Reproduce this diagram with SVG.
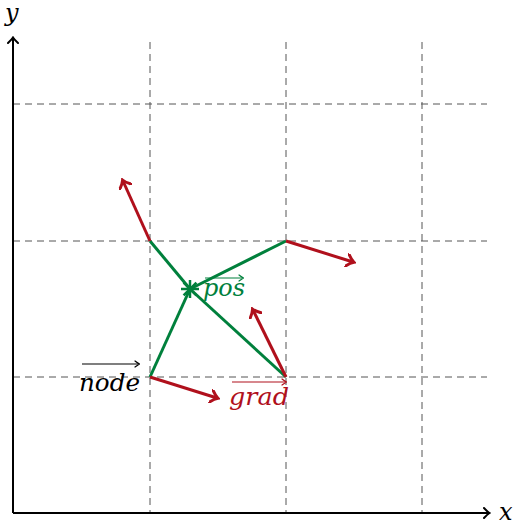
<svg xmlns="http://www.w3.org/2000/svg" width="516" height="527" viewBox="0 0 516 527">
<defs>
<style>
.grid{stroke:#555;stroke-width:1;stroke-dasharray:7,5;fill:none}
.axis{stroke:#000;stroke-width:2;fill:none}
.g{stroke:#00803c;stroke-width:3;fill:none}
.r{stroke:#b0101c;stroke-width:3;fill:none}
text{font-family:'DejaVu Serif','Liberation Serif',serif;font-style:italic}
</style>
<marker id="ak" viewBox="-6 -6 8 12" markerWidth="8" markerHeight="12" refX="0" refY="0" orient="auto" markerUnits="userSpaceOnUse">
<path d="M-5,-5 Q-1.5,-1.2 0.5,0 Q-1.5,1.2 -5,5" stroke="#000" stroke-width="2" fill="none" stroke-linecap="round"/>
</marker>
<marker id="ar" viewBox="-7 -7 10 14" markerWidth="10" markerHeight="14" refX="0" refY="0" orient="auto" markerUnits="userSpaceOnUse">
<path d="M-6,-6 Q-2,-1.5 1,0 Q-2,1.5 -6,6" stroke="#b0101c" stroke-width="3" fill="none" stroke-linecap="round"/>
</marker>
<marker id="asK" viewBox="-5 -4 6 8" markerWidth="6" markerHeight="8" refX="0" refY="0" orient="auto" markerUnits="userSpaceOnUse">
<path d="M-4,-3 Q-1,-0.8 0.5,0 Q-1,0.8 -4,3" stroke="#000" stroke-width="1.2" fill="none" stroke-linecap="round"/>
</marker>
<marker id="asG" viewBox="-5 -4 6 8" markerWidth="6" markerHeight="8" refX="0" refY="0" orient="auto" markerUnits="userSpaceOnUse">
<path d="M-4,-3 Q-1,-0.8 0.5,0 Q-1,0.8 -4,3" stroke="#00803c" stroke-width="1.2" fill="none" stroke-linecap="round"/>
</marker>
<marker id="asR" viewBox="-5 -4 6 8" markerWidth="6" markerHeight="8" refX="0" refY="0" orient="auto" markerUnits="userSpaceOnUse">
<path d="M-4,-3 Q-1,-0.8 0.5,0 Q-1,0.8 -4,3" stroke="#b0101c" stroke-width="1.2" fill="none" stroke-linecap="round"/>
</marker>
</defs>
<rect width="516" height="527" fill="#fff"/>
<g id="grid">
<line class="grid" x1="150" y1="42" x2="150" y2="513"/>
<line class="grid" x1="286" y1="42" x2="286" y2="513"/>
<line class="grid" x1="422" y1="42" x2="422" y2="513"/>
<line class="grid" x1="13" y1="104" x2="487" y2="104"/>
<line class="grid" x1="13" y1="241" x2="487" y2="241"/>
<line class="grid" x1="13" y1="377" x2="487" y2="377"/>
</g>
<g id="axes">
<line class="axis" x1="13" y1="513" x2="489" y2="513" marker-end="url(#ak)"/>
<line class="axis" x1="13" y1="513" x2="13" y2="38" marker-end="url(#ak)"/>
<text x="499" y="520" font-size="24">x</text>
<text x="5" y="21" font-size="24">y</text>
</g>
<g id="connectors">
<line class="g" x1="190" y1="289" x2="150" y2="377"/>
<line class="g" x1="190" y1="289" x2="286" y2="377"/>
<line class="g" x1="190" y1="289" x2="286" y2="241"/>
<line class="g" x1="190" y1="289" x2="150" y2="241"/>
<line class="r" x1="150" y1="241" x2="123" y2="181" marker-end="url(#ar)"/>
<line class="r" x1="286" y1="241" x2="353" y2="262" marker-end="url(#ar)"/>
<line class="r" x1="286" y1="377" x2="253" y2="310" marker-end="url(#ar)"/>
<line class="r" x1="150" y1="377" x2="217" y2="398" marker-end="url(#ar)"/>
</g>
<g id="pos">
<g stroke="#00803c" stroke-width="2.5">
<line x1="181" y1="289" x2="199" y2="289"/>
<line x1="190" y1="280" x2="190" y2="298"/>
<line x1="183.6" y1="282.6" x2="196.4" y2="295.4"/>
<line x1="183.6" y1="295.4" x2="196.4" y2="282.6"/>
</g>
<line x1="205" y1="278" x2="243" y2="278" stroke="#00803c" stroke-width="1.2" marker-end="url(#asG)"/>
<text x="203" y="296" fill="#00803c" font-size="24" textLength="42" lengthAdjust="spacingAndGlyphs">pos</text>
</g>
<g id="node">
<line x1="82" y1="364" x2="139" y2="364" stroke="#000" stroke-width="1.2" marker-end="url(#asK)"/>
<text x="79" y="391" fill="#000" font-size="24" textLength="61" lengthAdjust="spacingAndGlyphs">node</text>
</g>
<g id="grad">
<line x1="232" y1="382" x2="286" y2="382" stroke="#b0101c" stroke-width="1.2" marker-end="url(#asR)"/>
<text x="229" y="405" fill="#b0101c" font-size="24" textLength="60" lengthAdjust="spacingAndGlyphs">grad</text>
</g>
</svg>
